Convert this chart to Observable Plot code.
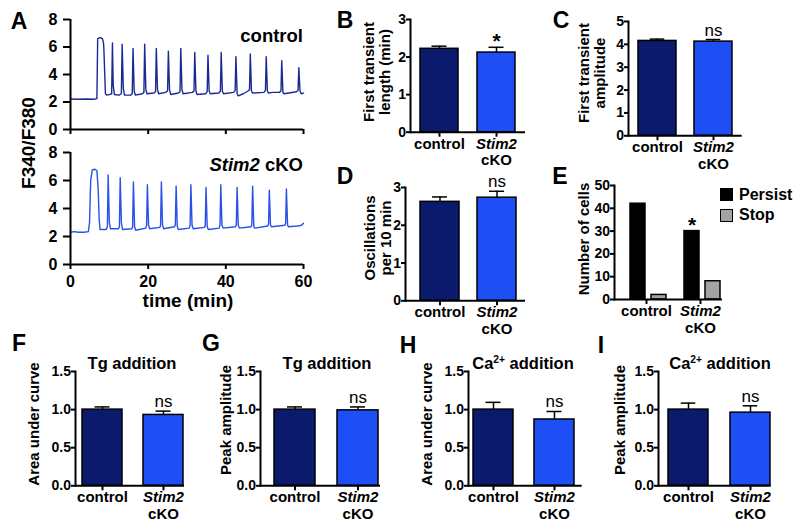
<!DOCTYPE html>
<html><head><meta charset="utf-8">
<script src="https://cdn.jsdelivr.net/npm/d3@7"></script>
<script src="https://cdn.jsdelivr.net/npm/@observablehq/plot@0.6"></script>
<style>
html,body{margin:0;padding:0;background:#fff;}
#fig{position:relative;width:800px;height:532px;overflow:hidden;font-family:"Liberation Sans",Arial,sans-serif;color:#000;background:#fff;}
.p{position:absolute;}
.t{position:absolute;white-space:nowrap;font-weight:bold;line-height:1;text-align:center;}
.t sup{font-size:0.62em;vertical-align:0.55em;line-height:0;}
.sq{position:absolute;width:11px;height:11px;border:1.5px solid #000;}
</style></head><body><div id="fig"></div>
<script>
// ---------- DATA ----------
// Panel A: F340/F380 traces (time in min, ratio)
const ctrlTime = [0,2,4,6,6.8,7.0,7.5,8.2,8.5,8.6,9.0,9.3,10.2,10.6,10.8,11.0,11.3,12.5,13.1,13.3,13.6,13.9,15.5,15.9,16.1,16.4,16.7,18.5,18.9,19.1,19.4,19.7,21.5,21.9,22.1,22.4,22.7,24.5,25.0,25.2,25.5,25.8,27.8,28.2,28.4,28.7,29.0,31.4,31.8,32.0,32.3,32.6,34.8,35.2,35.4,35.7,36.0,38.2,38.6,38.8,39.1,39.4,42.0,42.4,42.6,42.9,43.2,44.5,45.7,46.1,46.3,46.6,46.9,49.8,50.2,50.4,50.7,51.0,52.0,53.8,54.2,54.4,54.7,55.0,58.2,58.6,58.8,59.1,59.4,60];
const ctrlRatio = [2.22,2.2,2.22,2.2,2.25,6.6,6.68,6.62,6.3,5.8,2.6,2.5,2.55,2.6,6.3,3.2,2.55,2.5,2.6,6.2,3.0,2.5,2.5,2.6,5.9,2.8,2.5,2.6,2.7,6.2,2.9,2.6,2.65,2.75,5.9,2.9,2.6,2.7,2.8,5.7,2.9,2.55,2.65,2.75,5.9,2.9,2.6,2.7,2.8,5.6,2.8,2.55,2.6,2.75,5.4,2.8,2.6,2.65,2.8,5.6,2.8,2.6,2.7,2.85,5.3,2.6,2.45,2.6,2.8,2.9,5.5,2.8,2.65,2.7,2.85,5.3,2.8,2.65,2.7,2.7,2.8,5.0,2.7,2.6,2.75,2.85,4.5,2.8,2.6,2.65];
const ckoTime = [0,1,2,3.5,4.6,4.9,5.2,5.6,6.3,6.8,7.1,7.4,7.6,9.2,9.5,9.7,10.0,10.3,12.3,12.6,12.8,13.1,13.4,15.8,16.0,16.2,16.5,16.8,19.4,19.6,19.8,20.1,20.4,23.0,23.2,23.4,23.7,24.0,26.8,27.0,27.2,27.5,27.8,30.6,30.8,31.0,31.3,31.6,34.5,34.7,34.9,35.2,35.5,38.3,38.5,38.7,39.0,39.3,42.5,42.7,42.9,43.2,43.5,46.5,46.7,46.9,47.2,47.5,50.8,51.0,51.2,51.5,51.8,55.2,55.4,55.6,55.9,56.2,58.5,59.5,60];
const ckoRatio = [2.3,2.35,2.3,2.3,2.35,3.0,6.0,6.75,6.8,6.7,5.5,3.2,2.5,2.5,2.7,6.4,3.0,2.55,2.55,2.7,6.2,3.0,2.5,2.55,2.7,5.9,2.7,2.45,2.6,2.8,5.7,2.8,2.55,2.65,2.8,5.9,2.8,2.55,2.7,2.85,5.6,2.7,2.5,2.6,2.8,5.7,2.8,2.55,2.65,2.8,5.5,2.7,2.5,2.6,2.8,5.7,2.8,2.6,2.7,2.85,5.5,2.8,2.6,2.7,2.85,5.6,2.7,2.6,2.75,2.9,5.3,2.8,2.7,2.8,2.95,5.4,2.8,2.7,2.75,2.8,2.95];
const traceYTicks = [0, 2, 4, 6, 8];
const timeTicks = [0, 20, 40, 60];

// Bar panels
const genotypes = ["control", "Stim2 cKO"];
const xLabelTop = ["control", "Stim2"];
const xLabelBottom = ["", "cKO"];
const lengthMean = [2.22, 2.12], lengthSem = [0.07, 0.14], lengthSig = ["", "*"];
const amplitudeMean = [4.15, 4.12], amplitudeSem = [0.08, 0.09], amplitudeSig = ["", "ns"];
const oscMean = [2.62, 2.73], oscSem = [0.13, 0.17], oscSig = ["", "ns"];
const tgAucMean = [1.00, 0.93], tgAucSem = [0.035, 0.05], tgAucSig = ["", "ns"];
const tgPeakMean = [1.00, 0.99], tgPeakSem = [0.035, 0.045], tgPeakSig = ["", "ns"];
const caAucMean = [1.00, 0.87], caAucSem = [0.095, 0.105], caAucSig = ["", "ns"];
const caPeakMean = [1.00, 0.96], caPeakSem = [0.085, 0.09], caPeakSig = ["", "ns"];
const ticks3 = [0, 1, 2, 3];
const ticks5 = [0, 1, 2, 3, 4, 5];
const ticks15 = [0, 0.5, 1.0, 1.5];

// Panel E: number of cells
const cellGenotype = ["control", "control", "Stim2 cKO", "Stim2 cKO"];
const cellStatus = ["Persist", "Stop", "Persist", "Stop"];
const cellCount = [42, 2, 30, 8];
const cellSig = ["", "", "*", ""];
const statuses = ["Persist", "Stop"];
const cellTicks = [0, 10, 20, 30, 40, 50];

// ---------- STYLE ----------
const genotypeColors = ["#0b1a6c", "#1d4ff5"];
const traceColors = ["#1a2a92", "#2a50e6"];
const statusColors = {Persist: "#000000", Stop: "#a3a3a3"};
const FONT = "'Liberation Sans', Arial, Helvetica, sans-serif";
const baseStyle = `font-family:${FONT};font-size:15px;font-weight:bold;background:transparent;overflow:visible;color:#000;`;

const fig = document.getElementById("fig");
function place(svg, left, top, w, h) {
  const d = document.createElement("div");
  d.className = "p";
  d.style.left = left + "px"; d.style.top = top + "px";
  d.style.width = w + "px"; d.style.height = h + "px";
  d.appendChild(svg);
  fig.appendChild(d);
}
function txt(html, x, y, {size = 15, weight = "bold", rot = false, align = "center", lh = 1}={}) {
  const d = document.createElement("div");
  d.className = "t";
  d.innerHTML = html;
  d.style.left = x + "px"; d.style.top = y + "px";
  d.style.fontSize = size + "px"; d.style.fontWeight = weight;
  d.style.lineHeight = typeof lh === "number" ? String(lh) : lh;
  const tx = align === "right" ? "-100%" : align === "left" ? "0" : "-50%";
  d.style.transform = `translate(${tx},-50%)` + (rot ? " rotate(-90deg)" : "");
  fig.appendChild(d);
}

// ---------- PANEL A ----------
function tracePanel(time, ratio, color, top, mt, mb, showLabels) {
  const ml = 40, mr = 7, width = 280;
  const height = (showLabels ? 264 : 129) - top + mb;
  const data = time.map((t, i) => ({t, r: ratio[i]}));
  const svg = Plot.plot({
    width, height, marginLeft: ml, marginRight: mr, marginTop: mt, marginBottom: mb,
    style: baseStyle,
    x: {domain: [0, 60], axis: null},
    y: {domain: [0, 8], axis: null},
    marks: [
      Plot.line(data, {x: "t", y: "r", stroke: color, strokeWidth: 1.4}),
      Plot.ruleX([0], {strokeWidth: 2}),
      Plot.ruleY([0], {strokeWidth: 2}),
      Plot.axisY({ticks: traceYTicks, tickSize: 7, tickPadding: 6, strokeWidth: 2, fontSize: 16, label: null}),
      Plot.axisX({ticks: timeTicks, tickSize: 5, tickPadding: 6, strokeWidth: 2, fontSize: 16, label: null,
                  tickFormat: showLabels ? (d => String(d)) : (() => "")})
    ]
  });
  place(svg, 30, top, width, height);
}
tracePanel(ctrlTime, ctrlRatio, traceColors[0], 10, 9, 10, false);
tracePanel(ckoTime, ckoRatio, traceColors[1], 140, 12, 40, true);

// ---------- BAR PANELS ----------
function barPanel({axisX, endX, yTop, yZero, b1s, b2s, bw, yMax, ticks, fmt, means, sems, sigs}) {
  const ml = 48, mr = 12, mt = 24, mb = 46;
  const step = b2s - b1s, R = endX - axisX, leftover = R - step - bw;
  const data = genotypes.map((g, i) => ({g, v: means[i], e: sems[i], s: sigs[i], c: genotypeColors[i],
                                         l1: xLabelTop[i], l2: xLabelBottom[i]}));
  const width = R + ml + mr, height = yZero - yTop + mt + mb;
  const cap = Math.max(0, (bw - 15) / 2);
  const svg = Plot.plot({
    width, height, marginLeft: ml, marginRight: mr, marginTop: mt, marginBottom: mb,
    style: baseStyle,
    x: {domain: genotypes, paddingInner: (step - bw) / step, paddingOuter: leftover / (2 * step),
        align: (b1s - axisX) / leftover, axis: null},
    y: {domain: [0, yMax], axis: null},
    color: {type: "identity"},
    marks: [
      Plot.barY(data, {x: "g", y: "v", fill: "c", stroke: "#000", strokeWidth: 1.5}),
      Plot.ruleX(data, {x: "g", y1: "v", y2: d => d.v + d.e, strokeWidth: 1.5}),
      Plot.tickY(data, {x: "g", y: d => d.v + d.e, strokeWidth: 1.5, insetLeft: cap, insetRight: cap}),
      Plot.text(data.filter(d => d.s !== "*"), {x: "g", y: d => d.v + d.e, text: "s", lineAnchor: "bottom", dy: -4, fontSize: 17, fontWeight: "normal"}),
      Plot.text(data.filter(d => d.s === "*"), {x: "g", y: d => d.v + d.e, text: "s", lineAnchor: "bottom", dy: 1, fontSize: 21, fontWeight: "bold"}),
      Plot.ruleY([0], {strokeWidth: 2}),
      Plot.frame({anchor: "left", strokeWidth: 2}),
      Plot.axisY({ticks, tickFormat: fmt, tickSize: 4, tickPadding: 0.5, strokeWidth: 2, fontSize: 14, label: null}),
      Plot.axisX({tickSize: 5, strokeWidth: 2, tickFormat: () => "", label: null}),
      Plot.text(data.filter(d => d.g === "control"), {x: "g", text: "l1", frameAnchor: "bottom", lineAnchor: "top", dy: 6, fontSize: 15}),
      Plot.text(data.filter(d => d.g !== "control"), {x: "g", text: "l1", frameAnchor: "bottom", lineAnchor: "top", dy: 6, fontSize: 15, fontStyle: "italic"}),
      Plot.text(data, {x: "g", text: "l2", frameAnchor: "bottom", lineAnchor: "top", dy: 22.5, fontSize: 15})
    ]
  });
  place(svg, axisX - ml, yTop - mt, width, height);
}

barPanel({axisX: 410, endX: 525, yTop: 19, yZero: 131.7, b1s: 420, b2s: 477, bw: 38, yMax: 3, ticks: ticks3, fmt: d3.format("d"),
          means: lengthMean, sems: lengthSem, sigs: lengthSig});
barPanel({axisX: 628.3, endX: 742, yTop: 20.7, yZero: 135, b1s: 637.7, b2s: 694, bw: 38.5, yMax: 5, ticks: ticks5, fmt: d3.format("d"),
          means: amplitudeMean, sems: amplitudeSem, sigs: amplitudeSig});
barPanel({axisX: 405, endX: 525, yTop: 186.7, yZero: 300, b1s: 420, b2s: 477, bw: 39, yMax: 3, ticks: ticks3, fmt: d3.format("d"),
          means: oscMean, sems: oscSem, sigs: oscSig});
barPanel({axisX: 75, endX: 184, yTop: 370.7, yZero: 485, b1s: 81.7, b2s: 143, bw: 40, yMax: 1.5, ticks: ticks15, fmt: d3.format(".1f"),
          means: tgAucMean, sems: tgAucSem, sigs: tgAucSig});
barPanel({axisX: 260, endX: 380, yTop: 370.7, yZero: 485, b1s: 273.3, b2s: 336.5, bw: 41, yMax: 1.5, ticks: ticks15, fmt: d3.format(".1f"),
          means: tgPeakMean, sems: tgPeakSem, sigs: tgPeakSig});
barPanel({axisX: 468.3, endX: 582, yTop: 370.7, yZero: 485, b1s: 472.7, b2s: 534, bw: 40, yMax: 1.5, ticks: ticks15, fmt: d3.format(".1f"),
          means: caAucMean, sems: caAucSem, sigs: caAucSig});
barPanel({axisX: 658.3, endX: 771, yTop: 370.7, yZero: 485, b1s: 666.7, b2s: 729.5, bw: 40.5, yMax: 1.5, ticks: ticks15, fmt: d3.format(".1f"),
          means: caPeakMean, sems: caPeakSem, sigs: caPeakSig});

// ---------- PANEL E ----------
(function () {
  const axisX = 612.7, endX = 722, yTop = 185, yZero = 299;
  const ml = 48, mr = 12, mt = 24, mb = 46;
  const R = endX - axisX, fw = R / 2;
  const off = 15, step = 22, bw = 15.3, leftover = fw - step - bw;
  const data = cellCount.map((n, i) => ({g: cellGenotype[i], s: cellStatus[i], n, sig: cellSig[i], c: statusColors[cellStatus[i]]}));
  const labels = genotypes.map((g, i) => ({g, l1: xLabelTop[i], l2: xLabelBottom[i]}));
  const width = R + ml + mr, height = yZero - yTop + mt + mb;
  const svg = Plot.plot({
    width, height, marginLeft: ml, marginRight: mr, marginTop: mt, marginBottom: mb,
    style: baseStyle,
    fx: {domain: genotypes, padding: 0, axis: null},
    x: {domain: statuses, paddingInner: (step - bw) / step, paddingOuter: leftover / (2 * step), align: off / leftover, axis: null},
    y: {domain: [0, 50], axis: null},
    color: {type: "identity"},
    marks: [
      Plot.barY(data, {fx: "g", x: "s", y: "n", fill: "c", stroke: "#000", strokeWidth: 1.5}),
      Plot.text(data, {fx: "g", x: "s", y: "n", text: "sig", lineAnchor: "bottom", dy: 1, fontSize: 21, fontWeight: "bold"}),
      Plot.ruleY([0], {strokeWidth: 2}),
      Plot.frame({anchor: "left", strokeWidth: 2, facetAnchor: "left"}),
      Plot.axisY({ticks: cellTicks, tickSize: 4, tickPadding: 0.5, strokeWidth: 2, fontSize: 14, label: null}),
      Plot.axisFx({anchor: "bottom", tickSize: 5, strokeWidth: 2, tickFormat: () => "", dx: 5, label: null}),
      Plot.text(labels.filter(d => d.g === "control"), {fx: "g", text: "l1", frameAnchor: "bottom", lineAnchor: "top", dy: 6, dx: 5, fontSize: 15}),
      Plot.text(labels.filter(d => d.g !== "control"), {fx: "g", text: "l1", frameAnchor: "bottom", lineAnchor: "top", dy: 6, dx: 5, fontSize: 15, fontStyle: "italic"}),
      Plot.text(labels, {fx: "g", text: "l2", frameAnchor: "bottom", lineAnchor: "top", dy: 22.5, dx: 5, fontSize: 15})
    ]
  });
  place(svg, axisX - ml, yTop - mt, width, height);
})();

// ---------- TEXT ----------
const letters = [["A", 19, 21], ["B", 345, 20], ["C", 561, 20], ["D", 345, 176], ["E", 560, 176],
                 ["F", 19, 343], ["G", 211, 343], ["H", 408, 345], ["I", 601, 345]];
letters.forEach(([l, x, y]) => txt(l, x, y, {size: 23}));

txt("control", 303, 36, {size: 18.5, align: "right"});
txt("<i>Stim2</i> cKO", 303, 165, {size: 18.5, align: "right"});
txt("F340/F380", 28, 143, {size: 19, rot: true});
txt("time (min)", 188, 300, {size: 19});

txt("First transient<br>length (min)", 376.5, 72, {rot: true, lh: "16px"});
txt("First transient<br>amplitude", 592, 72.5, {rot: true, lh: "16px"});
txt("Oscillations<br>per 10 min", 377.5, 238, {rot: true, lh: "16px"});
txt("Number of cells", 583, 239, {rot: true});
txt("Area under curve", 33, 424, {rot: true});
txt("Peak amplitude", 225, 420, {rot: true});
txt("Area under curve", 426, 424, {rot: true});
txt("Peak amplitude", 619, 420, {rot: true});

txt("Tg addition", 132, 363, {size: 16.5});
txt("Tg addition", 327, 363, {size: 16.5});
txt("Ca<sup>2+</sup> addition", 523, 363, {size: 16.5});
txt("Ca<sup>2+</sup> addition", 720, 363, {size: 16.5});

// Legend for E
statuses.forEach((s, i) => {
  const sq = document.createElement("div");
  sq.className = "sq";
  sq.style.left = "720px";
  sq.style.top = (188 + i * 20.5) + "px";
  sq.style.background = statusColors[s];
  fig.appendChild(sq);
  txt(s, 739, 194.5 + i * 20.5, {size: 16, align: "left"});
});
</script></body></html>
